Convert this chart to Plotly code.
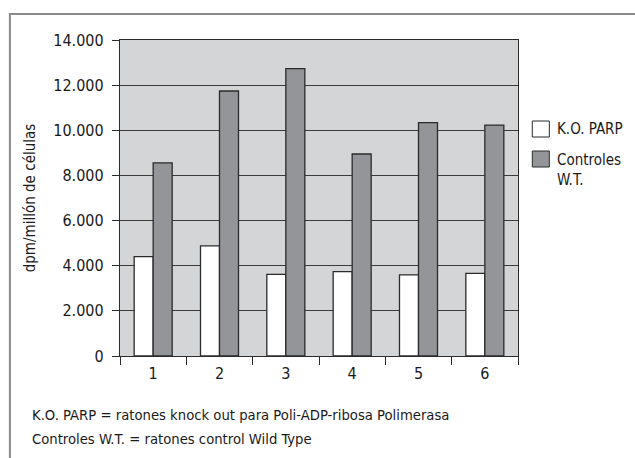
import plotly.graph_objects as go

categories = ["1", "2", "3", "4", "5", "6"]
ko_parp = [4400, 4880, 3620, 3740, 3590, 3660]
controles_wt = [8560, 11740, 12730, 8950, 10340, 10230]
y_ticks = [0, 2000, 4000, 6000, 8000, 10000, 12000, 14000]
y_tick_labels = ["0", "2.000", "4.000", "6.000", "8.000", "10.000", "12.000", "14.000"]

FONT = "Liberation Sans Narrow, DejaVu Sans Condensed, Arial Narrow, sans-serif"
W, H = 635, 458
L, R, T, B = 120, 517.7, 40, 356


def px(x):
    return (x - L) / (R - L)


def py(y):
    return (B - y) / (B - T)


fig = go.Figure()
fig.add_trace(go.Bar(x=categories, y=ko_parp, name="K.O. PARP",
                     marker=dict(color="white", line=dict(color="#2b2b2b", width=1.3))))
fig.add_trace(go.Bar(x=categories, y=controles_wt, name="Controles W.T.",
                     marker=dict(color="#939598", line=dict(color="#2b2b2b", width=1.3))))

shapes = [
    # outer frame lines
    dict(type="line", xref="paper", yref="paper", x0=px(9), x1=px(635), y0=py(14), y1=py(14),
         line=dict(color="#8a8a8a", width=2)),
    dict(type="line", xref="paper", yref="paper", x0=px(10), x1=px(10), y0=py(13), y1=py(458),
         line=dict(color="#8a8a8a", width=2)),
    # legend swatches
    dict(type="rect", xref="paper", yref="paper", x0=px(532), x1=px(549), y0=py(121), y1=py(137),
         fillcolor="white", line=dict(color="#2b2b2b", width=1)),
    dict(type="rect", xref="paper", yref="paper", x0=px(532), x1=px(549), y0=py(151), y1=py(167),
         fillcolor="#939598", line=dict(color="#2b2b2b", width=1)),
]

annotations = [
    dict(text="K.O. PARP", xref="paper", yref="paper", x=px(555), y=py(129), xanchor="left",
         yanchor="middle", showarrow=False, font=dict(family=FONT, size=15, color="#1a1a1a")),
    dict(text="Controles<br>W.T.", xref="paper", yref="paper", x=px(555), y=py(149), xanchor="left",
         yanchor="top", showarrow=False, align="left",
         font=dict(family=FONT, size=15, color="#1a1a1a")),
    dict(text="K.O. PARP = ratones knock out para Poli-ADP-ribosa Polimerasa", xref="paper",
         yref="paper", x=px(30), y=py(414), xanchor="left", yanchor="middle", showarrow=False,
         font=dict(family=FONT, size=14.7, color="#1a1a1a")),
    dict(text="Controles W.T. = ratones control Wild Type", xref="paper",
         yref="paper", x=px(30), y=py(438), xanchor="left", yanchor="middle", showarrow=False,
         font=dict(family=FONT, size=14.7, color="#1a1a1a")),
]

fig.update_layout(
    width=W, height=H,
    margin=dict(l=L, r=W - R, t=T, b=H - B, pad=0),
    paper_bgcolor="white",
    plot_bgcolor="#d4d5d7",
    barmode="group",
    bargap=0.427,
    bargroupgap=0,
    showlegend=False,
    font=dict(family=FONT, size=16, color="#1a1a1a"),
    shapes=shapes,
    annotations=annotations,
)
fig.update_xaxes(
    type="category", tickson="boundaries", ticks="outside", ticklen=8, tickwidth=1.3,
    tickcolor="#2b2b2b", showline=True, linecolor="#2b2b2b", linewidth=1.3, mirror=True,
    showgrid=False, tickfont=dict(family=FONT, size=16), fixedrange=True,
    ticklabelstandoff=3,
)
fig.update_yaxes(
    range=[0, 14000], tickvals=y_ticks, ticktext=y_tick_labels, ticks="outside", ticklen=7,
    tickwidth=1.3, tickcolor="#2b2b2b", showline=True, linecolor="#2b2b2b", linewidth=1.3,
    mirror=True, showgrid=True, gridcolor="#3a3a3a", gridwidth=1.2, zeroline=False,
    tickfont=dict(family=FONT, size=16), fixedrange=True, ticklabelstandoff=5,
    title=dict(text="dpm/millón de células", font=dict(family=FONT, size=15), standoff=14),
)

fig.write_html("out.html", config={"displayModeBar": False},
               post_script="document.body.style.margin='0';")
